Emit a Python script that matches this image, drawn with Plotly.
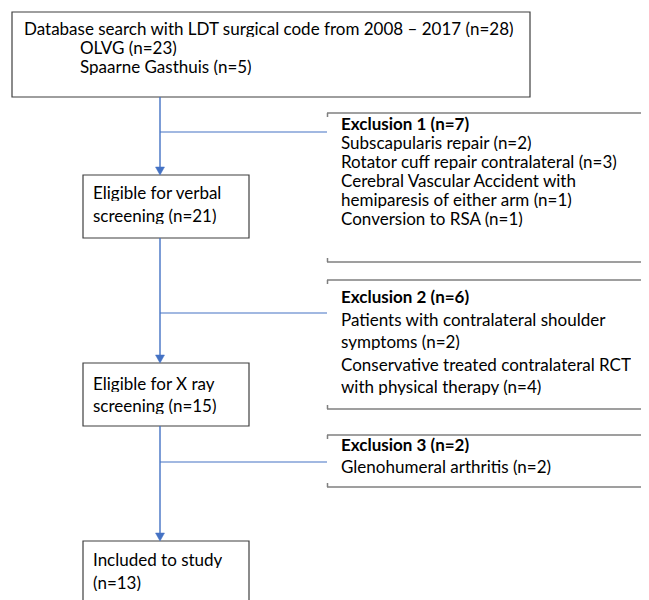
import plotly.graph_objects as go

# ---- data ----
source_label = "Database search with LDT surgical code from 2008 \u2013 2017"
source_n = 28
hospitals = ["OLVG", "Spaarne Gasthuis"]
hospital_n = [23, 5]

stage_labels = [["Eligible for verbal", "screening"],
                ["Eligible for X ray", "screening"],
                ["Included to study", ""]]
stage_n = [21, 15, 13]

exclusion_titles = ["Exclusion 1", "Exclusion 2", "Exclusion 3"]
exclusion_n = [7, 6, 2]
exclusion_reasons = [
    [["Subscapularis repair"], ["Rotator cuff repair contralateral"],
     ["Cerebral Vascular Accident with", "hemiparesis of either arm"], ["Conversion to RSA"]],
    [["Patients with contralateral shoulder", "symptoms"],
     ["Conservative treated contralateral RCT", "with physical therapy"]],
    [["Glenohumeral arthritis"]],
]
exclusion_reason_n = [[2, 3, 1, 1], [2, 4], [2]]

# ---- layout geometry ----
W, H = 649, 600
OFF = 8  # page body margin
FONT = "Lato"
FS = 17
BLUE = "#4472C4"
BOX = "#3f3f3f"
GREY = "#7f7f7f"
cx = 160

shapes = []
ann = []

def text(x, y, s, bold=False):
    ann.append(dict(x=x, y=y, xref="x", yref="y", text=("<b>%s</b>" % s) if bold else s,
                    showarrow=False, xanchor="left", yanchor="middle", height=18,
                    borderpad=0,
                    font=dict(family=FONT, size=FS, color="#000000")))

def rect(x0, y0, x1, y1):
    shapes.append(dict(type="rect", x0=x0, y0=y0, x1=x1, y1=y1, xref="x", yref="y",
                       line=dict(color=BOX, width=1.2), fillcolor="white", layer="above"))

def line(x0, y0, x1, y1, color=BLUE, width=1.4):
    shapes.append(dict(type="line", x0=x0, y0=y0, x1=x1, y1=y1, xref="x", yref="y",
                       line=dict(color=color, width=width)))

def arrow(y0, y1):
    line(cx, y0, cx, y1 - 7)
    shapes.append(dict(type="path", xref="x", yref="y",
                       path="M %f %f L %f %f L %f %f Z" % (cx - 4.5, y1 - 8, cx + 4.5, y1 - 8, cx, y1),
                       fillcolor=BLUE, line=dict(color=BLUE, width=0.5)))

# source box
rect(12, 12, 530, 97)
text(23, 28, "%s (n=%d)" % (source_label, source_n))
for i, (h, n) in enumerate(zip(hospitals, hospital_n)):
    text(79, 47 + 18.5 * i, "%s (n=%d)" % (h, n))

# stage boxes
stage_boxes = [(175, 238), (363, 426), (541, 640)]
stage_text_y = [(192, 215), (383, 405), (559, 582)]
for (lab, n, (t, b), (ty1, ty2)) in zip(stage_labels, stage_n, stage_boxes, stage_text_y):
    rect(83, t, 249, b)
    if lab[1]:
        text(92, ty1, lab[0])
        text(92, ty2, "%s (n=%d)" % (lab[1], n))
    else:
        text(92, ty1, lab[0])
        text(92, ty2, "(n=%d)" % n)

# arrows
arrow(97, 175)
arrow(238, 363)
arrow(426, 541)

# exclusion brackets
excl_boxes = [(113, 262), (280, 409), (435, 487)]
branch_y = [132, 313, 462]
excl_first_y = [123, 296, 444]
excl_spacing = [19, 22.6, 22.0]
for k in range(3):
    t, b = excl_boxes[k]
    line(327, t, W + 20, t, GREY, 1.5)
    line(327, b, W + 20, b, GREY, 1.5)
    line(327.5, t, 327.5, t + 4, GREY, 1.5)
    line(327.5, b, 327.5, b - 4, GREY, 1.5)
    line(cx, branch_y[k], 327, branch_y[k], BLUE, 1.1)
    y = excl_first_y[k]
    text(340, y, "%s (n=%d)" % (exclusion_titles[k], exclusion_n[k]), bold=True)
    for reason, n in zip(exclusion_reasons[k], exclusion_reason_n[k]):
        for j, part in enumerate(reason):
            y += excl_spacing[k]
            s = part + (" (n=%d)" % n if j == len(reason) - 1 else "")
            text(340, y, s)

fig = go.Figure()
fig.update_layout(
    width=W, height=H, margin=dict(l=0, r=0, t=0, b=0),
    paper_bgcolor="white", plot_bgcolor="white",
    xaxis=dict(range=[OFF, W + OFF], visible=False, fixedrange=True),
    yaxis=dict(range=[H + OFF, OFF], visible=False, fixedrange=True),
    shapes=shapes, annotations=ann, showlegend=False,
)
fig.write_html("out.html")
